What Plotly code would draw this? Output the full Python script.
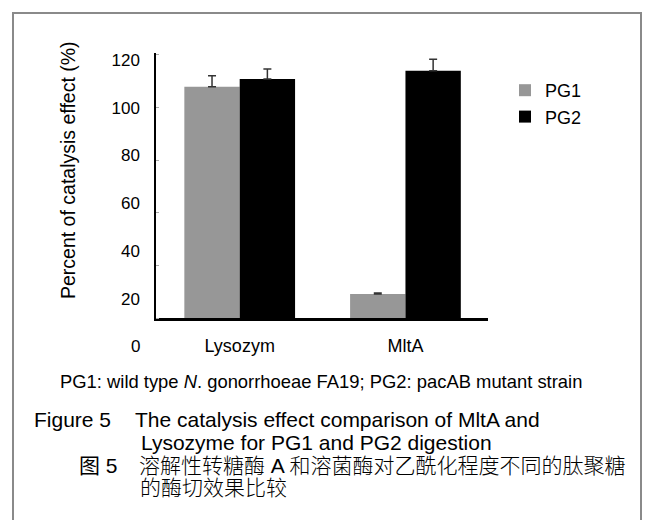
import plotly.graph_objects as go

# ---------------- data ----------------
categories = ["Lysozym", "MltA"]
series_names = ["PG1", "PG2"]
pg1_values = [108.8, 22.0]
pg1_errors = [4.6, 0.5]
pg2_values = [112.0, 115.5]
pg2_errors = [4.2, 4.8]
no_lower_error = [0, 0]
y_tick_values = [20, 40, 60, 80, 100, 120]
y_tick_labels = ["20", "40", "60", "80", "100", "120"]
y_zero_label = "0"
y_title = "Percent of catalysis effect (%)"
note_text = "PG1: wild type <i>N</i>. gonorrhoeae FA19; PG2: pacAB mutant strain"
caption_en_label = "Figure 5"
caption_en_line1 = "The catalysis effect comparison of MltA and"
caption_en_line2 = "Lysozyme for PG1 and PG2 digestion"
caption_cn_label = "图 5"
caption_cn_line1 = "溶解性转糖酶 A 和溶菌酶对乙酰化程度不同的肽聚糖"
caption_cn_line2 = "的酶切效果比较"

# ---------------- layout geometry (screen pixels) ----------------
PAGE_OFFSET = 8               # default body margin of the html page
WIN_W, WIN_H = 654, 520
FIG_W, FIG_H = WIN_W - PAGE_OFFSET, WIN_H - PAGE_OFFSET
PLOT_LEFT, PLOT_RIGHT, PLOT_TOP, PLOT_BOTTOM = 156, 488, 53, 318
L = PLOT_LEFT - PAGE_OFFSET
T = PLOT_TOP - PAGE_OFFSET
R = WIN_W - PLOT_RIGHT
B = WIN_H - PLOT_BOTTOM
PW = PLOT_RIGHT - PLOT_LEFT
PH = PLOT_BOTTOM - PLOT_TOP
Y_RANGE = [12.0, 122.9]
X_RANGE = [-0.505, 1.498]

FONT = "Liberation Sans, Arial, Noto Sans CJK SC, sans-serif"


def px_x(sx):
    return (sx - PLOT_LEFT) / PW


def px_y(sy):
    return (PLOT_BOTTOM - sy) / PH


fig = go.Figure()
fig.add_trace(go.Bar(
    name=series_names[0], x=categories, y=pg1_values,
    marker=dict(color="#979797", line=dict(width=0)),
    error_y=dict(type="data", array=pg1_errors, arrayminus=no_lower_error,
                 symmetric=False, color="#333333", thickness=1.5, width=4),
))
fig.add_trace(go.Bar(
    name=series_names[1], x=categories, y=pg2_values,
    marker=dict(color="#000000", line=dict(width=0)),
    error_y=dict(type="data", array=pg2_errors, arrayminus=no_lower_error,
                 symmetric=False, color="#333333", thickness=1.5, width=4),
))


def label(text, sx, sy, size, anchor="left", **kw):
    return dict(text=text, x=px_x(sx), y=px_y(sy), xref="paper", yref="paper",
                xanchor=anchor, yanchor="middle", showarrow=False,
                font=dict(size=size, color="#000", **kw), **({} if not kw else {}))


annotations = [
    dict(text=y_title, textangle=-90, x=px_x(68), y=px_y(170),
         xref="paper", yref="paper", xanchor="center", yanchor="middle",
         showarrow=False, font=dict(size=19.5, color="#000")),
    label(y_zero_label, 142, 346.7, 17, anchor="right"),
    label(note_text, 58, 381.7, 18.4),
    label(caption_en_label, 32, 419, 21),
    label(caption_en_line1, 133, 419, 21),
    label(caption_en_line2, 139, 442, 21),
    label(caption_cn_label, 77, 466, 21),
    label(caption_cn_line1, 137, 466, 21, weight=300),
    label(caption_cn_line2, 138, 488, 21, weight=300),
]

fig.update_layout(
    width=FIG_W, height=FIG_H,
    margin=dict(l=L, r=R, t=T, b=B, pad=0),
    paper_bgcolor="white", plot_bgcolor="white",
    font=dict(family=FONT, color="#000", size=17),
    barmode="group", bargap=0.332, bargroupgap=0,
    showlegend=True,
    legend=dict(x=px_x(505), y=px_y(72), xanchor="left", yanchor="top",
                bgcolor="rgba(0,0,0,0)", borderwidth=0,
                font=dict(size=18, color="#000"), traceorder="normal"),
    xaxis=dict(range=X_RANGE, showline=True, linecolor="#000", linewidth=2.5,
               ticks="", showgrid=False, zeroline=False,
               tickfont=dict(size=18), ticklabelstandoff=10),
    yaxis=dict(range=Y_RANGE, showline=True, linecolor="#000", linewidth=1.5,
               ticks="", showgrid=False, zeroline=False,
               tickvals=y_tick_values, ticktext=y_tick_labels,
               tickfont=dict(size=17), ticklabelstandoff=11,
               minor=dict(ticks="inside", ticklen=3, tickcolor="#aaaaaa",
                          tick0=12.0, dtick=22.04, showgrid=False)),
    annotations=annotations,
    shapes=[dict(type="rect", xref="paper", yref="paper",
                 x0=px_x(13), x1=px_x(641), y0=px_y(530), y1=px_y(13),
                 line=dict(color="#8a8a8a", width=2), fillcolor="rgba(0,0,0,0)",
                 layer="below")],
)

fig.write_html("out.html")
